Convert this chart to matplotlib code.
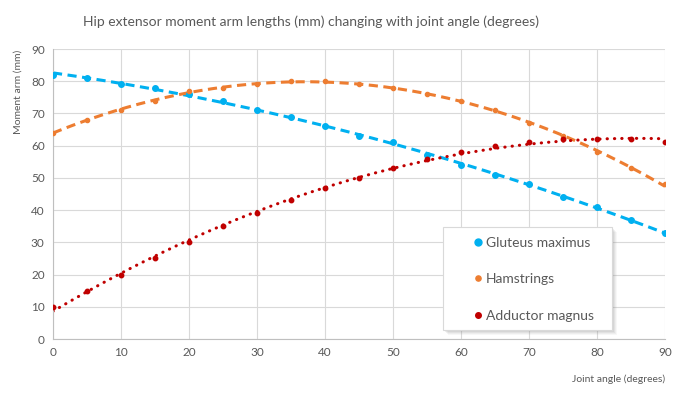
import numpy as np
import matplotlib
matplotlib.use('Agg')
import matplotlib.pyplot as plt
from matplotlib.patches import Rectangle

# data (joint angle in degrees, moment arm in mm)
angles = [0, 5, 10, 15, 20, 25, 30, 35, 40, 45, 50, 55, 60, 65, 70, 75, 80, 85, 90]
gluteus = [82, 81, 79, 78, 76, 74, 71, 69, 66, 63, 61, 57, 54, 51, 48, 44, 41, 37, 33]
hamstrings = [64, 68, 71, 74, 77, 78, 79, 80, 80, 79, 78, 76, 74, 71, 67, 63, 58, 53, 48]
adductor = [10, 15, 20, 25, 30, 35, 39, 43, 47, 50, 53, 56, 58, 60, 61, 62, 62, 62, 61]

names = ['Gluteus maximus', 'Hamstrings', 'Adductor magnus']

COLORS = {
    'blue': '#00B0F0',
    'orange': '#ED7D31',
    'red': '#C00000',
    'grid': '#D9D9D9',
    'text': '#595959',
}

plt.rcParams['font.family'] = ['Lato', 'DejaVu Sans']

fig = plt.figure(figsize=(6.84, 3.99), dpi=100)
ax = fig.add_axes([53 / 684, 60 / 399, 612 / 684, 290 / 399])

x = np.array(angles, dtype=float)
xs = np.linspace(0, 90, 200)

series = [
    (gluteus, COLORS['blue'], 4.0, (0, (3, 1.8))),
    (hamstrings, COLORS['orange'], 3.0, (0, (3, 1.8))),
    (adductor, COLORS['red'], 3.2, (0, (0.1, 2.3))),
]

for (vals, col, ms, ls), name in zip(series, names):
    y = np.array(vals, dtype=float)
    ax.plot(x, y, 'o', color=col, markersize=ms, label=name, zorder=3)
    # 2nd order trendline, like the spreadsheet
    coef = np.polyfit(x, y, 2)
    ax.plot(xs, np.polyval(coef, xs), color=col, linewidth=2.2, linestyle=ls,
            dash_capstyle='round' if col == COLORS['red'] else 'butt', zorder=2)

ax.set_xlim(0, 90)
ax.set_ylim(0, 90)
ax.set_xticks(range(0, 91, 10))
ax.set_yticks(range(0, 91, 10))
ax.grid(color=COLORS['grid'], linewidth=0.8)
ax.set_axisbelow(True)
ax.tick_params(length=0, labelsize=8.5, colors=COLORS['text'], pad=6)

for s in ['top', 'right']:
    ax.spines[s].set_visible(False)
ax.spines['left'].set_color('#BFBFBF')
ax.spines['bottom'].set_color('#BFBFBF')

fig.text(83 / 684, 1 - 22 / 399, 'Hip extensor moment arm lengths (mm) changing with joint angle (degrees)',
         fontsize=10, color=COLORS['text'], ha='left', va='center')
fig.text(18 / 684, 1 - 50 / 399, 'Moment arm (mm)', rotation=90, fontsize=7.5,
         color=COLORS['text'], ha='center', va='top')
fig.text(665 / 684, 1 - 379 / 399, 'Joint angle (degrees)', fontsize=7.5,
         color=COLORS['text'], ha='right', va='center')

# legend frame with a soft shadow, placed in figure pixels
lx0, ly0, lw, lh = 443, 399 - 330, 169, 103
for i, a in enumerate([0.06, 0.08, 0.10, 0.12]):
    off = 5 - i
    ax.add_patch(Rectangle(((lx0 + off) / 684, (ly0 - off) / 399), lw / 684, lh / 399,
                           transform=fig.transFigure, facecolor='#808080', alpha=a,
                           edgecolor='none', zorder=6, clip_on=False))
ax.add_patch(Rectangle((lx0 / 684, ly0 / 399), lw / 684, lh / 399, transform=fig.transFigure,
                       facecolor='white', edgecolor='#D9D9D9', linewidth=0.8, zorder=7,
                       clip_on=False))

leg = ax.legend(loc='upper left', bbox_to_anchor=((467 - 53) / 612, (339 - 230) / 290),
                frameon=False, fontsize=10, labelspacing=1.75, handlelength=0.6,
                handletextpad=0.25, borderpad=0.5, borderaxespad=0, markerscale=1.25)
leg.set_zorder(10)
for t in leg.get_texts():
    t.set_color(COLORS['text'])

fig.savefig('out.png', dpi=100)
